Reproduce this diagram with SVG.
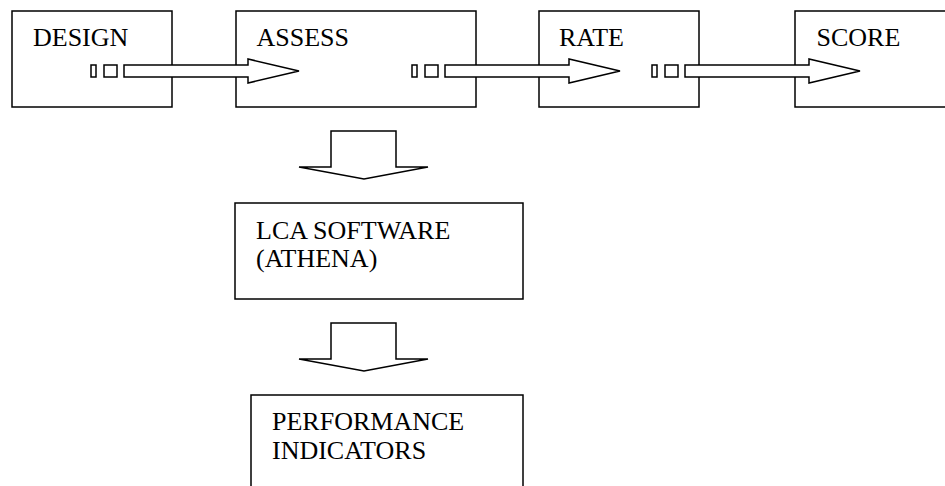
<svg xmlns="http://www.w3.org/2000/svg" width="945" height="486" viewBox="0 0 945 486">
<defs>
<style>
.box{fill:#fff;stroke:#000;stroke-width:1.5}
.arr{fill:#fff;stroke:#000;stroke-width:1.5;stroke-linejoin:miter}
.t{font-family:"Liberation Serif","Times New Roman",serif;font-size:26px;fill:#000}
</style>
<g id="rarrow">
<rect x="0" y="65" width="5" height="12" class="arr"/>
<rect x="13" y="65" width="13" height="12" class="arr"/>
<polygon points="33,65 157,65 157,59 208,71 157,83 157,77 33,77" class="arr"/>
</g>
<polygon id="darrow" points="331,131 396,131 396,167 428,167 364,179 299,167 331,167" class="arr"/>
</defs>
<rect width="945" height="486" fill="#fff"/>
<g id="design"><rect x="12" y="11" width="160" height="96" class="box"/><text x="33" y="45.5" class="t">DESIGN</text></g>
<g id="assess"><rect x="236" y="11" width="240" height="96" class="box"/><text x="256.5" y="45.5" class="t">ASSESS</text></g>
<g id="rate"><rect x="539" y="11" width="160" height="96" class="box"/><text x="559" y="45.5" class="t">RATE</text></g>
<g id="score"><rect x="795" y="11" width="200" height="96" class="box"/><text x="816.5" y="45.5" class="t">SCORE</text></g>
<g id="lca"><rect x="235" y="203" width="288" height="96" class="box"/><text x="256" y="238.5" class="t">LCA SOFTWARE</text><text x="256" y="266.5" class="t">(ATHENA)</text></g>
<g id="perf"><rect x="251" y="395" width="272" height="120" class="box"/><text x="272" y="430" class="t">PERFORMANCE</text><text x="272" y="458.5" class="t">INDICATORS</text></g>
<g id="connectors">
<use href="#rarrow" x="91"/>
<use href="#rarrow" x="412"/>
<use href="#rarrow" x="652"/>
<use href="#darrow"/>
<use href="#darrow" y="192"/>
</g>
</svg>
